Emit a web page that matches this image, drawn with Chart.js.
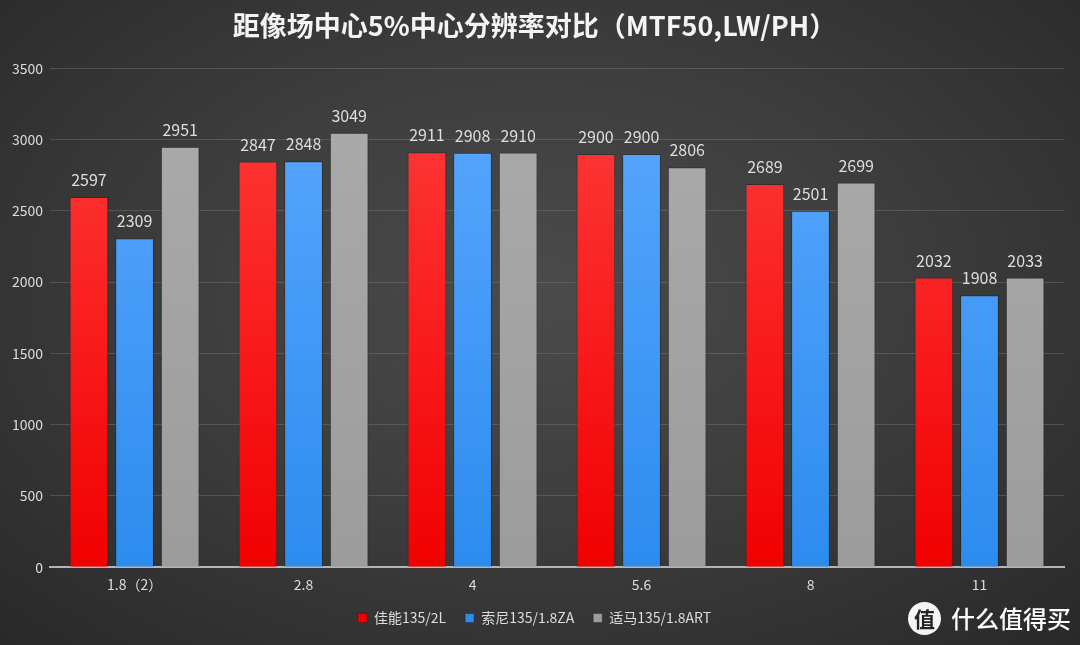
<!DOCTYPE html>
<html><head><meta charset="utf-8">
<script src="https://cdn.jsdelivr.net/npm/chart.js@4/dist/chart.umd.min.js"></script>
<style>
html,body{margin:0;padding:0;}
#wrap{position:relative;width:1080px;height:645px;background:radial-gradient(ellipse 75% 80% at 50% 45%, #4b4b4b 0%, #3d3d3d 45%, #272727 100%);overflow:hidden;}
canvas{position:absolute;left:0;top:0;}
#wm{position:absolute;left:908px;top:601px;height:34px;display:flex;align-items:center;font-family:"Noto Sans CJK SC",sans-serif;color:#fff;white-space:nowrap;}
#wm .c{width:33px;height:33px;border-radius:50%;background:#f4f4f4;color:#222;font-size:21px;font-weight:bold;display:flex;align-items:center;justify-content:center;line-height:1;flex:none;}
#wm .t{margin-left:10px;font-size:24px;font-weight:500;line-height:1;}
</style></head>
<body><div id="wrap"><canvas id="c" width="1080" height="645"></canvas>
<div id="wm"><div class="c">值</div><div class="t">什么值得买</div></div></div>
<script>
const categories = ['1.8（2）', '2.8', '4', '5.6', '8', '11'];
const canonValues = [2597, 2847, 2911, 2900, 2689, 2032];
const sonyValues = [2309, 2848, 2908, 2900, 2501, 1908];
const sigmaValues = [2951, 3049, 2910, 2806, 2699, 2033];
const seriesNames = ['佳能135/2L', '索尼135/1.8ZA', '适马135/1.8ART'];
const yTicks = [0, 500, 1000, 1500, 2000, 2500, 3000, 3500];

const FONT = '"Noto Sans CJK SC", "Open Sans", sans-serif';

function grad(top, bottom) {
  return function(ctx) {
    const ch = ctx.chart; const a = ch.chartArea;
    if (!a) return bottom;
    const g = ch.ctx.createLinearGradient(0, a.top, 0, a.bottom);
    g.addColorStop(0, top); g.addColorStop(1, bottom);
    return g;
  };
}

const labelPlugin = {
  id: 'valueLabels',
  afterDatasetsDraw(chart) {
    const ctx = chart.ctx;
    ctx.save();
    ctx.font = '16px ' + FONT;
    ctx.fillStyle = '#dedede';
    ctx.textAlign = 'center';
    ctx.textBaseline = 'bottom';
    chart.data.datasets.forEach((ds, i) => {
      const meta = chart.getDatasetMeta(i);
      meta.data.forEach((bar, j) => {
        ctx.fillText(String(ds.data[j]), bar.x, bar.y - 9);
      });
    });
    ctx.restore();
  }
};

const legendShift = {
  id: 'legendShift',
  afterLayout(chart) {
    const lg = chart.legend;
    if (!lg) return;
    const d = 620 - (lg.top + 19 + 9);
    lg.top += d; lg.bottom += d;
  }
};

new Chart(document.getElementById('c'), {
  type: 'bar',
  data: {
    labels: categories,
    datasets: [
      { label: seriesNames[0], data: canonValues, backgroundColor: grad('#ff3d3d', '#f20000'), borderColor: 'rgba(20,20,20,0.35)', borderWidth: 1 },
      { label: seriesNames[1], data: sonyValues, backgroundColor: grad('#5ca8ff', '#2c8cee'), borderColor: 'rgba(20,20,20,0.35)', borderWidth: 1 },
      { label: seriesNames[2], data: sigmaValues, backgroundColor: grad('#ababab', '#9c9c9c'), borderColor: 'rgba(20,20,20,0.35)', borderWidth: 1 }
    ]
  },
  options: {
    responsive: false,
    animation: false,
    devicePixelRatio: 1,
    layout: { padding: { left: 5, right: 16, top: 8, bottom: 0 } },
    datasets: { bar: { categoryPercentage: 0.81, barPercentage: 0.85 } },
    plugins: {
      title: {
        display: true,
        text: '距像场中心5%中心分辨率对比（MTF50,LW/PH）',
        color: '#f4f4f4',
        font: { family: FONT, size: 27, weight: 'bold' },
        padding: { top: 2, bottom: 26 }
      },
      legend: {
        position: 'bottom',
        labels: {
          color: '#dddddd',
          font: { family: FONT, size: 14 },
          usePointStyle: true,
          pointStyle: 'rect',
          boxWidth: 9,
          boxHeight: 9,
          padding: 19
        }
      },
      tooltip: { enabled: false }
    },
    scales: {
      x: {
        grid: { display: false, drawTicks: false },
        border: { display: true, color: '#b5b5b5', width: 2 },
        ticks: { color: '#dddddd', font: { family: FONT, size: 14 }, padding: 9 }
      },
      y: {
        min: 0, max: 3500,
        afterBuildTicks(axis) { axis.ticks = yTicks.map(v => ({ value: v })); },
        grid: { color: 'rgba(120,120,120,0.45)', lineWidth: 1, drawTicks: false },
        border: { display: false },
        ticks: { color: '#dddddd', font: { family: FONT, size: 14 }, padding: 7, callback: v => String(v) }
      }
    }
  },
  plugins: [labelPlugin, legendShift]
});
</script></body></html>
